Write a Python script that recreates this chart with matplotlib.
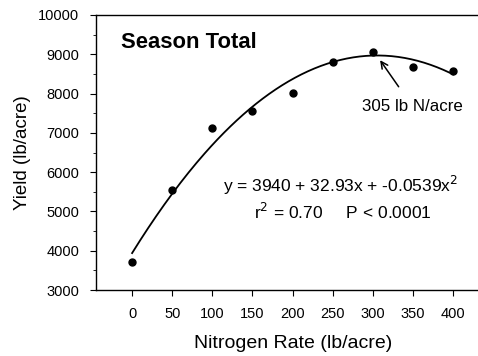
import matplotlib
matplotlib.use('Agg')
import matplotlib.pyplot as plt
import numpy as np
from matplotlib.ticker import MultipleLocator

plt.rcParams['font.family'] = ['Liberation Sans', 'DejaVu Sans']

n_rate = [0, 50, 100, 150, 200, 250, 300, 350, 400]
yield_lb = [3720, 5540, 7135, 7560, 8015, 8800, 9065, 8680, 8575]

# fitted quadratic as printed on the chart
coef = [3940, 32.93, -0.0539]
opt_rate = 305


def run():
    fig = plt.figure(figsize=(4.78, 3.56), dpi=100)
    ax = fig.add_axes([96 / 478, 1 - 290 / 356, 1 - 96 / 478, (290 - 15) / 356])

    xs = np.linspace(0, 400, 200)
    ax.plot(xs, coef[0] + coef[1] * xs + coef[2] * xs**2, color='black', lw=1.3)
    ax.plot(n_rate, yield_lb, 'o', color='black', ms=5)

    ax.set_xlim(-45, 431)
    ax.set_ylim(3000, 10000)
    ax.set_xticks(n_rate)
    ax.yaxis.set_major_locator(MultipleLocator(1000))
    ax.yaxis.set_minor_locator(MultipleLocator(500))
    ax.spines['right'].set_visible(False)
    for s in ['left', 'top', 'bottom']:
        ax.spines[s].set_linewidth(1.0)
    ax.tick_params(axis='both', which='major', direction='out', length=4,
                   labelsize=10.5, pad=8)
    ax.tick_params(axis='y', which='minor', direction='out', length=2)
    ax.tick_params(axis='x', pad=8)

    ax.set_xlabel('Nitrogen Rate (lb/acre)', fontsize=14)
    ax.xaxis.set_label_coords(0.515, -0.165)
    ax.set_ylabel('Yield (lb/acre)', fontsize=13.5, labelpad=5)

    ax.text(-14, 9300, 'Season Total', fontsize=15.8, fontweight='bold',
            ha='left', va='center')
    ax.annotate('%d lb N/acre' % opt_rate, xy=(309, 8850), xytext=(349, 7680),
                fontsize=12.2, ha='center', va='center',
                arrowprops=dict(arrowstyle='->', color='black', lw=1.1,
                                shrinkA=8, shrinkB=0))
    ax.text(260, 5660,
            'y = %d + %.2fx + %.4fx$^2$' % (coef[0], coef[1], coef[2]),
            fontsize=12.5, ha='center', va='center')
    ax.text(262, 4990, 'r$^2$ = 0.70     P < 0.0001',
            fontsize=12.5, ha='center', va='center')

    fig.savefig('out.png', dpi=100)


if __name__ == '__main__':
    run()
